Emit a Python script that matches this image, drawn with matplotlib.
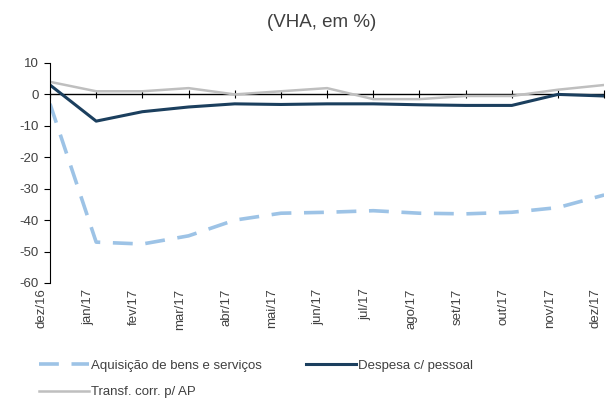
import numpy as np
import matplotlib.pyplot as plt
from matplotlib.transforms import ScaledTranslation

plt.rcParams['font.family'] = ['Liberation Sans', 'DejaVu Sans']
plt.rcParams['axes.unicode_minus'] = False

meses = ['dez/16', 'jan/17', 'fev/17', 'mar/17', 'abr/17', 'mai/17', 'jun/17',
         'jul/17', 'ago/17', 'set/17', 'out/17', 'nov/17', 'dez/17']
aquisicao = [-3, -47, -47.6, -45, -40, -37.8, -37.5, -37, -37.8, -38, -37.5, -36, -32]
pessoal = [3, -8.5, -5.5, -4, -3, -3.2, -3, -3, -3.3, -3.5, -3.5, 0, -0.5]
transf = [4, 1, 1, 2, 0, 1, 2, -1.5, -1.5, -0.5, -0.5, 1.5, 3]

fig = plt.figure(figsize=(6.06, 4.03), dpi=100)
ax = fig.add_axes([0.0825, 0.2978, 0.9145, 0.5459])
x = np.arange(len(meses))

ax.plot(x, aquisicao, color='#9DC3E6', lw=2.6, dashes=(5.5, 3.5),
        label='Aquisição de bens e serviços')
ax.plot(x, transf, color='#BFBFBF', lw=1.8, label='Transf. corr. p/ AP')
ax.plot(x, pessoal, color='#1B3F5E', lw=2.2, label='Despesa c/ pessoal')

ax.set_xlim(0, 12)
ax.set_ylim(-60, 10)
ax.set_yticks(range(-60, 11, 10))
ax.set_xticks(x, meses, rotation=90)
ax.tick_params(axis='x', length=0, pad=4, labelsize=9.5, colors='#404040')
ax.tick_params(axis='y', length=4, pad=4, labelsize=9.5, colors='#404040')
ax.tick_params(axis='y', color='black')
# rótulos ligeiramente à esquerda dos traços, como no original
desloc = ScaledTranslation(-6 / 72, 0, fig.dpi_scale_trans)
for lab in ax.get_xticklabels():
    lab.set_transform(lab.get_transform() + desloc)

for s in ['top', 'right', 'bottom']:
    ax.spines[s].set_visible(False)

# eixo horizontal no zero
ax.axhline(0, color='black', lw=1, zorder=1)
sec = ax.secondary_xaxis(60 / 70)
sec.set_xticks(x)
sec.tick_params(direction='inout', length=6, labelbottom=False, labeltop=False)
sec.spines['top'].set_visible(False)
sec.spines['bottom'].set_visible(False)

fig.text(0.53, 0.945, '(VHA, em %)', ha='center', va='center', fontsize=13.5, color='#404040')

fig.legend(ncol=2, loc='center left', bbox_to_anchor=(0.045, 0.06), frameon=False,
           fontsize=9.5, handlelength=3.8, handletextpad=0.1, columnspacing=3.4,
           labelspacing=1.1, labelcolor='#404040')

fig.savefig('out.png', dpi=100)
